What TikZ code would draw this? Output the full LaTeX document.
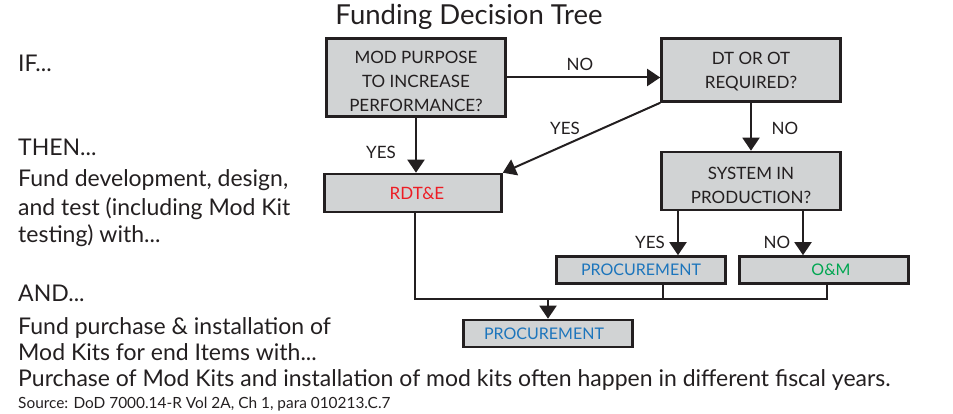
\documentclass[tikz,border=0pt]{standalone}
\usepackage{fontspec}
\setmainfont{Lato}
\usetikzlibrary{arrows.meta}
\definecolor{boxgray}{HTML}{D1D3D4}
\definecolor{ink}{HTML}{231F20}
\definecolor{rdred}{HTML}{ED1C24}
\definecolor{pblue}{HTML}{1C75BC}
\definecolor{omgreen}{HTML}{00A651}
\tikzset{
  box/.style={draw=ink, line width=2.6pt, fill=boxgray, inner sep=0pt, align=center,
    font=\fontsize{17}{24}\selectfont, text=ink},
  fundbox/.style={box, minimum width=169pt, minimum height=27pt, font=\fontsize{16}{20}\selectfont},
  conn/.style={draw=ink, line width=2pt},
  arr/.style={conn, -{Triangle[width=17pt,length=13pt]}},
  lab/.style={font=\fontsize{17}{20}\selectfont, text=ink, inner sep=0pt},
  body/.style={font=\fontsize{23}{26}\selectfont, anchor=base west, inner sep=0pt, text=ink},
  small/.style={font=\fontsize{15.4}{18}\selectfont, anchor=base west, inner sep=0pt, text=ink}
}
\begin{document}
\begin{tikzpicture}[x=1pt,y=-1pt]
\useasboundingbox (0,0) rectangle (953,414);
\node[font=\fontsize{27.5}{30}\selectfont, text=ink, inner sep=0pt] (title) at (469,17) {Funding Decision Tree};

\node[box, minimum width=179pt, minimum height=78pt] (m) at (416,77.5) {\rule{0pt}{20pt}MOD PURPOSE\\TO INCREASE\\PERFORMANCE?};
\node[box, minimum width=179pt, minimum height=63pt] (dt) at (751,70) {\rule{0pt}{16pt}DT OR OT\\REQUIRED?};
\node[box, minimum width=177pt, minimum height=38pt, text=rdred] (rdte) at (413,193) {\hspace*{8pt}RDT\&E};
\node[box, minimum width=179pt, minimum height=58pt] (sys) at (751,181) {\rule{0pt}{21pt}SYSTEM IN\\PRODUCTION?};
\node[fundbox, text=pblue] (p1) at (641,270) {PROCUREMENT};
\node[fundbox, text=omgreen] (om) at (824,270) {\hspace*{14pt}O\&M};
\node[fundbox, text=pblue] (p2) at (548,333.5) {PROCUREMENT\hspace*{8pt}};

\draw[arr] (m.east) -- (m.east -| dt.west);
\node[lab] (lno1) at (580,64) {NO};
\draw[arr] (m.south) -- (m.south |- rdte.north);
\node[lab] (lyes1) at (381,152) {YES};
\draw[arr] (dt.south west) -- (rdte.north east);
\node[lab] (lyes2) at (565,128) {YES};
\draw[arr] (dt.south) -- (sys.north);
\node[lab] (lno2) at (785,128) {NO};
\draw[arr] ([xshift=-73pt]sys.south) -- ([xshift=37pt]p1.north);
\node[lab] (lyes3) at (650,242) {YES};
\draw[arr] ([xshift=52pt]sys.south) -- ([xshift=-21pt]om.north);
\node[lab] (lno3) at (777,242) {NO};

\coordinate (bus) at (548,299);
\draw[conn] ([xshift=2pt]rdte.south) |- (bus);
\draw[conn] (bus) -| ([xshift=3pt]om.south);
\draw[conn] ([xshift=22pt]p1.south) |- (bus);
\draw[arr] (bus) -- (p2.north);

\node[body] (tif) at (18,72) {IF...};
\node[body] (tthen) at (18,156) {THEN...};
\node[body] (t1) at (18,187) {Fund development, design,};
\node[body] (t2) at (18,215) {and test (including Mod Kit};
\node[body] (t3) at (18,242) {testing) with...};
\node[body] (tand) at (18,301) {AND...};
\node[body] (t4) at (18,334) {Fund purchase \& installation of};
\node[body] (t5) at (18,360) {Mod Kits for end Items with...};
\node[body] (t6) at (18,386) {Purchase of Mod Kits and installation of mod kits often happen in different fiscal years.};
\node[small] (src) at (18,408) {Source: DoD 7000.14-R Vol 2A, Ch 1, para 010213.C.7};
\end{tikzpicture}
\end{document}
